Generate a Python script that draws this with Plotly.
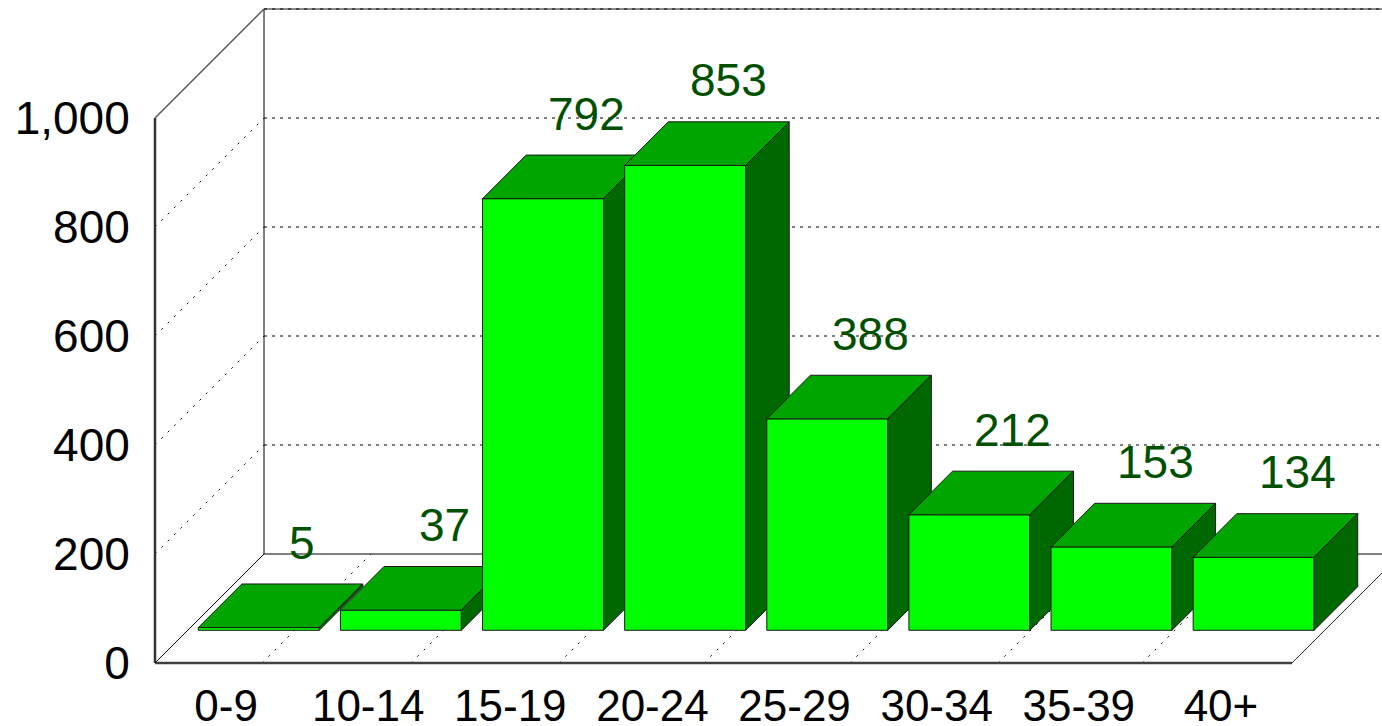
import plotly.graph_objects as go

# ---- data ----
categories = ["0-9", "10-14", "15-19", "20-24", "25-29", "30-34", "35-39", "40+"]
values = [5, 37, 792, 853, 388, 212, 153, 134]
y_ticks = [0, 200, 400, 600, 800, 1000]
y_tick_text = ["0", "200", "400", "600", "800", "1,000"]
# front positions (category units) of the dotted floor lines
floor_marks = [0.753, 1.801, 2.843, 3.863, 4.890, 5.931, 6.945]

# ---- geometry / style ----
W, H = 1382, 726
ML, MB = 140, 61
PX_X = 142.125          # px per category unit
PX_Y = 0.545            # px per value unit
FRONT_LEFT_PX = 155
FRONT_BOTTOM_PX = 663
DX = 109 / PX_X         # depth offset (category units)
DY = 200                # depth offset (value units)
BAR_W = 0.851
BAR_M = (1 - BAR_W) / 2
F0, F1 = 0.3, 0.7       # bar depth span as fraction of the plot depth
Y_MAX = 1000
N = len(categories)
LABEL_GAP = 76          # value units between bar back-top and label centre

x_lo = -(FRONT_LEFT_PX - ML) / PX_X
x_hi = (W - FRONT_LEFT_PX) / PX_X
y_lo = -((H - MB) - FRONT_BOTTOM_PX) / PX_Y
y_hi = FRONT_BOTTOM_PX / PX_Y
XEND = x_hi + 1

FONT = "Liberation Sans, Arial, sans-serif"
FRONT_C = "#00FF00"
TOP_C = "#00A500"
SIDE_C = "#006800"
EDGE_C = "#1a1a1a"
LABEL_C = "#005000"

fig = go.Figure()


def line(xs, ys, color, width, dash="solid"):
    fig.add_trace(go.Scatter(x=xs, y=ys, mode="lines",
                             line=dict(color=color, width=width, dash=dash),
                             hoverinfo="skip", showlegend=False))


def poly(pts, fill):
    xs = [p[0] for p in pts] + [pts[0][0]]
    ys = [p[1] for p in pts] + [pts[0][1]]
    fig.add_trace(go.Scatter(x=xs, y=ys, mode="lines", fill="toself",
                             fillcolor=fill, line=dict(color=EDGE_C, width=1),
                             hoverinfo="skip", showlegend=False))


# back wall
line([DX, XEND], [Y_MAX + DY, Y_MAX + DY], "#8a8a8a", 2)
for v in y_ticks[1:]:
    line([DX, XEND], [v + DY, v + DY], "#000000", 1, "3px,5px")
line([DX, XEND], [DY, DY], "#000000", 1)
line([DX, DX], [DY, Y_MAX + DY], "#000000", 1)
# diagonal grid lines on the left side wall
for v in y_ticks[1:-1]:
    line([0, DX], [v, v + DY], "#000000", 1, "2px,7px")
line([0, DX], [Y_MAX, Y_MAX + DY], "#555555", 1.5)
# floor
line([0, DX], [0, DY], "#000000", 1)
for p in floor_marks:
    line([p, p + DX], [0, DY], "#000000", 1, "2px,7px")
line([N, N + DX], [0, DY], "#333333", 1)
line([0, N], [0, 0], "#404040", 2.5)
line([0, 0], [0, Y_MAX], "#333333", 2.5)

# bars
fx, fy = F0 * DX, F0 * DY
bx, by = F1 * DX, F1 * DY
for i, v in enumerate(values):
    xl = i + BAR_M
    xr = xl + BAR_W
    poly([(xl + fx, fy), (xr + fx, fy), (xr + fx, v + fy), (xl + fx, v + fy)], FRONT_C)
    poly([(xl + fx, v + fy), (xr + fx, v + fy), (xr + bx, v + by), (xl + bx, v + by)], TOP_C)
    poly([(xr + fx, fy), (xr + bx, by), (xr + bx, v + by), (xr + fx, v + fy)], SIDE_C)

annotations = []
for i, v in enumerate(values):
    annotations.append(dict(x=i + 0.5 + bx, y=v + by + LABEL_GAP, xref="x", yref="y",
                            text=f"{v:,}", showarrow=False, xanchor="center", yanchor="middle",
                            font=dict(family=FONT, size=46, color=LABEL_C)))

fig.update_layout(
    width=W, height=H,
    margin=dict(l=ML, r=0, t=0, b=MB, pad=0, autoexpand=False),
    paper_bgcolor="white", plot_bgcolor="white",
    showlegend=False,
    annotations=annotations,
    xaxis=dict(range=[x_lo, x_hi], tickvals=[i + 0.5 for i in range(N)], ticktext=categories,
               showgrid=False, zeroline=False, showline=False, automargin=False,
               ticks="outside", ticklen=2, tickcolor="rgba(0,0,0,0)",
               tickfont=dict(family=FONT, size=44, color="black"), fixedrange=True),
    yaxis=dict(range=[y_lo, y_hi], tickvals=y_ticks, ticktext=y_tick_text,
               showgrid=False, zeroline=False, showline=False, automargin=False,
               ticks="outside", ticklen=0, tickcolor="rgba(0,0,0,0)",
               tickfont=dict(family=FONT, size=46, color="black"), fixedrange=True),
)

fig.write_html("out.html", config={"displayModeBar": False},
               post_script="document.body.style.margin='0';document.body.style.overflow='hidden';")
